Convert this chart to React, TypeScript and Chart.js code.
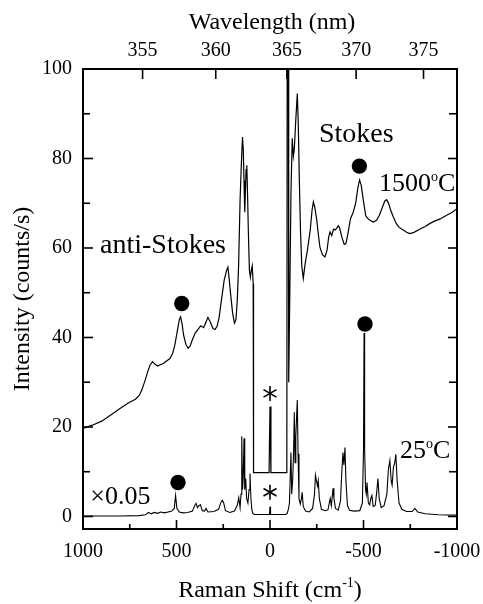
import React, { useEffect, useRef } from "react";
import { Chart, registerables } from "chart.js";

Chart.register(...registerables);

const SERIF = "'Liberation Serif', 'Times New Roman', Times, serif";
const LASER_NM = 363.8;

// 25 °C spectrum (scaled ×0.05)
const shift25: number[] = [
  1000, 900, 800, 700, 665, 650, 635, 620, 600, 585, 565, 545, 525, 512, 505, 498, 485, 465, 440, 415,
  402, 395, 388, 380, 372, 362, 350, 342, 332, 300, 275, 262, 255, 248, 238, 215, 190, 175, 167, 160,
  155, 151, 147, 143, 139, 135, 130, 125, 118, 112, 107, 102, 97, 92, 85, 3, 0, -3, -85, -92,
  -98, -104, -112, -116, -121, -126, -130, -134, -138, -142, -146, -150, -155, -162, -168, -172, -178, -190, -210, -228,
  -238, -243, -248, -254, -258, -264, -275, -295, -310, -318, -322, -328, -333, -337, -342, -350, -365, -377, -384, -390,
  -395, -401, -406, -414, -425, -450, -480, -494, -500, -503, -506, -511, -515, -519, -526, -533, -540, -545, -552, -563,
  -572, -577, -584, -595, -610, -625, -633, -641, -648, -653, -660, -667, -673, -680, -690, -705, -730, -760, -775, -790,
  -830, -900, -1000,
];
const intensity25: number[] = [
  0.1, 0.1, 0.1, 0.2, 0.4, 0.9, 0.6, 0.9, 0.7, 1.0, 0.8, 1.0, 1.2, 1.8, 4.7, 1.8, 1.0, 0.8, 0.9, 1.2,
  2.5, 2.9, 2.0, 2.4, 2.6, 1.3, 1.2, 1.8, 1.0, 1.1, 1.6, 3.2, 3.6, 3.1, 1.3, 0.9, 1.2, 2.5, 4.2, 2.0,
  5.0, 17.9, 6.0, 9.0, 17.5, 6.0, 8.5, 4.0, 3.0, 6.0, 9.6, 4.0, 1.5, 0.7, 0.45, 0.45, 2.2, 0.45, 0.45, 0.7,
  1.6, 3.0, 14.3, 5.0, 8.0, 14.0, 23.3, 12.0, 18.0, 22.0, 26.0, 14.0, 4.0, 2.8, 4.0, 5.4, 2.2, 1.2, 1.0, 1.8,
  5.0, 9.2, 8.0, 6.8, 8.0, 4.0, 1.6, 1.3, 1.5, 3.2, 4.0, 2.4, 4.5, 6.3, 4.0, 1.8, 1.4, 3.5, 10.0, 14.3,
  11.5, 15.4, 8.0, 2.5, 1.4, 1.2, 1.3, 3.0, 15.0, 41.0, 15.0, 6.0, 5.0, 7.6, 3.0, 2.6, 4.2, 4.7, 2.2, 2.5,
  6.0, 8.5, 4.0, 2.0, 2.4, 5.0, 10.5, 12.5, 8.0, 7.0, 11.0, 12.0, 13.9, 8.0, 3.0, 1.6, 1.1, 1.1, 1.8, 1.0,
  0.6, 0.4, 0.3,
];

// 1500 °C spectrum
const shift1500: number[] = [
  1000, 950, 900, 840, 800, 760, 720, 700, 685, 668, 655, 642, 628, 615, 600, 588, 570, 555, 535, 520,
  508, 495, 485, 478, 470, 462, 450, 438, 428, 415, 400, 385, 370, 355, 345, 332, 320, 305, 294, 283,
  272, 260, 245, 232, 225, 218, 210, 200, 190, 182, 175, 168, 160, 153, 147, 143, 139, 135, 132, 128,
  124, 120, 116, 110, 105, 100, 95, 90, 88, 5, 0, -5, -90, -92, -98, -100, -106, -112, -119, -125,
  -130, -137, -146, -151, -157, -163, -170, -178, -188, -200, -215, -225, -232, -240, -250, -260, -267, -280, -294, -305,
  -314, -321, -330, -340, -348, -358, -365, -372, -385, -397, -406, -418, -430, -445, -458, -470, -479, -488, -499, -512,
  -525, -535, -552, -570, -585, -600, -614, -624, -634, -645, -659, -675, -690, -713, -730, -749, -770, -800, -830, -856,
  -880, -910, -945, -975, -1000,
];
const intensity1500: number[] = [
  19.7, 20.4, 21.3, 23.0, 24.2, 25.3, 26.2, 27.0, 28.3, 30.4, 32.2, 33.8, 34.6, 34.0, 33.6, 33.9, 34.2, 34.7, 35.3, 36.5,
  38.5, 41.6, 44.0, 44.6, 43.0, 40.5, 38.5, 37.6, 38.0, 39.5, 41.0, 41.8, 42.6, 42.2, 43.2, 44.5, 43.5, 42.0, 41.8, 42.5,
  44.5, 48.3, 52.8, 55.0, 55.7, 53.0, 49.4, 45.5, 43.2, 44.0, 48.3, 56.0, 70.7, 79.0, 84.8, 82.0, 75.0, 68.0, 72.0, 77.5,
  78.5, 72.0, 64.0, 55.0, 53.5, 55.0, 56.0, 52.0, 9.8, 9.8, 24.6, 9.8, 9.8, 105, 105, 30.0, 50.0, 72.0, 84.5, 80.5,
  82.0, 88.0, 94.5, 88.0, 75.0, 64.0, 56.0, 53.2, 56.5, 59.5, 64.0, 68.5, 70.3, 69.0, 66.2, 62.5, 60.2, 58.5, 58.0, 59.5,
  62.5, 63.6, 62.8, 64.2, 64.0, 64.5, 65.0, 64.5, 62.3, 60.8, 61.0, 63.5, 66.5, 68.0, 70.0, 73.5, 75.2, 74.0, 70.7, 67.2,
  66.5, 66.2, 65.8, 66.2, 67.3, 69.0, 70.5, 70.8, 70.0, 68.5, 67.0, 65.5, 64.6, 64.0, 63.5, 63.2, 63.5, 64.2, 64.8, 65.5,
  66.0, 66.5, 67.3, 68.0, 68.8,
];

// filled-circle markers (●)
const markerShift: number[] = [472, -478, 492, -508];
const markerIntensity: number[] = [47.6, 78.3, 7.6, 43.0];

// asterisks (*) at the laser line
const asteriskShift: number[] = [0, 0];
const asteriskIntensity: number[] = [27.5, 5.4];

const ramanTicks: number[] = [1000, 500, 0, -500, -1000];
const ramanMinorTicks: number[] = [750, 250, -250, -750];
const intensityTicks: number[] = [0, 20, 40, 60, 80, 100];
const intensityMinorTicks: number[] = [10, 30, 50, 70, 90];
const wavelengthTicks: number[] = [355, 360, 365, 370, 375];

const nmToShift = (nm: number) => 1e7 / nm - 1e7 / LASER_NM;
const shiftToNm = (s: number) => 1e7 / (s + 1e7 / LASER_NM);

type Part = { t: string; size: number; dy: number };
type Note = { x: number; y: number; parts: Part[] };

const notes: Note[] = [
  { x: 909, y: 58.9, parts: [{ t: "anti-Stokes", size: 28, dy: 0 }] },
  { x: -262, y: 83.7, parts: [{ t: "Stokes", size: 28, dy: 0 }] },
  {
    x: -583, y: 72.7,
    parts: [
      { t: "1500", size: 26, dy: 0 },
      { t: "o", size: 14, dy: -10 },
      { t: "C", size: 26, dy: 0 },
    ],
  },
  { x: 961, y: 2.8, parts: [{ t: "\u00d70.05", size: 26, dy: 0 }] },
  {
    x: -695, y: 13.1,
    parts: [
      { t: "25", size: 26, dy: 0 },
      { t: "o", size: 14, dy: -10 },
      { t: "C", size: 26, dy: 0 },
    ],
  },
];

function drawParts(ctx: CanvasRenderingContext2D, x: number, y: number, parts: Part[], align: "left" | "center") {
  let total = 0;
  for (const p of parts) {
    ctx.font = `${p.size}px ${SERIF}`;
    total += ctx.measureText(p.t).width;
  }
  let cx = align === "center" ? x - total / 2 : x;
  ctx.textAlign = "left";
  ctx.textBaseline = "alphabetic";
  for (const p of parts) {
    ctx.font = `${p.size}px ${SERIF}`;
    ctx.fillText(p.t, cx, y + p.dy);
    cx += ctx.measureText(p.t).width;
  }
}

const decorations = {
  id: "decorations",
  afterDatasetsDraw(chart: any) {
    const { ctx, chartArea: a, scales } = chart;
    const xs = scales.x;
    const ys = scales.y;
    ctx.save();
    ctx.strokeStyle = "#000";
    ctx.fillStyle = "#000";
    ctx.lineCap = "butt";

    const seg = (x1: number, y1: number, x2: number, y2: number) => {
      ctx.beginPath();
      ctx.moveTo(x1, y1);
      ctx.lineTo(x2, y2);
      ctx.stroke();
    };

    // frame
    ctx.lineWidth = 2;
    ctx.strokeRect(a.left, a.top, a.right - a.left, a.bottom - a.top);

    // inward ticks
    ctx.lineWidth = 1.6;
    intensityTicks.forEach((v) => {
      const py = ys.getPixelForValue(v);
      seg(a.left, py, a.left + 10, py);
      seg(a.right, py, a.right - 9, py);
    });
    intensityMinorTicks.forEach((v) => {
      const py = ys.getPixelForValue(v);
      seg(a.left, py, a.left + 7, py);
      seg(a.right, py, a.right - 8, py);
    });
    ramanTicks.forEach((v) => {
      const px = xs.getPixelForValue(v);
      seg(px, a.bottom, px, a.bottom - 9);
    });
    ramanMinorTicks.forEach((v) => {
      const px = xs.getPixelForValue(v);
      seg(px, a.bottom, px, a.bottom - 5);
    });
    wavelengthTicks.forEach((nm) => {
      const px = xs.getPixelForValue(nmToShift(nm));
      seg(px, a.top, px, a.top + 10);
    });

    // asterisks
    ctx.lineWidth = 1.6;
    asteriskShift.forEach((s, i) => {
      const cx = xs.getPixelForValue(s);
      const cy = ys.getPixelForValue(asteriskIntensity[i]);
      const r = 7.5;
      for (const ang of [90, 30, 150]) {
        const rad = (ang * Math.PI) / 180;
        seg(cx - r * Math.cos(rad), cy - r * Math.sin(rad), cx + r * Math.cos(rad), cy + r * Math.sin(rad));
      }
    });

    // annotations
    notes.forEach((n) => {
      drawParts(ctx, xs.getPixelForValue(n.x), ys.getPixelForValue(n.y), n.parts, "left");
    });

    // axis titles
    drawParts(ctx, 272, 29, [{ t: "Wavelength (nm)", size: 24, dy: 0 }], "center");
    drawParts(
      ctx,
      (a.left + a.right) / 2,
      597,
      [
        { t: "Raman Shift (cm", size: 24, dy: 0 },
        { t: "-1", size: 14, dy: -10 },
        { t: ")", size: 24, dy: 0 },
      ],
      "center"
    );
    ctx.save();
    ctx.translate(23, (a.top + a.bottom) / 2);
    ctx.rotate(-Math.PI / 2);
    ctx.font = `24px ${SERIF}`;
    ctx.textAlign = "center";
    ctx.textBaseline = "middle";
    ctx.fillText("Intensity (counts/s)", 0, 0);
    ctx.restore();

    ctx.restore();
  },
};

export default function App() {
  const ref = useRef<HTMLCanvasElement>(null);

  useEffect(() => {
    const canvas = ref.current;
    if (!canvas) return;
    const tickFont = { family: SERIF, size: 20 };
    const noSidePadding = (scale: any, h: number) => {
      scale.height = h;
      scale.paddingLeft = 0;
      scale.paddingRight = 0;
    };
    const chart = new Chart(canvas, {
      type: "scatter",
      data: {
        datasets: [
          {
            label: "1500 °C",
            data: shift1500.map((s, i) => ({ x: s, y: intensity1500[i] })),
            showLine: true,
            borderColor: "#000",
            borderWidth: 1.2,
            pointRadius: 0,
            tension: 0,
          },
          {
            label: "25 °C",
            data: shift25.map((s, i) => ({ x: s, y: intensity25[i] })),
            showLine: true,
            borderColor: "#000",
            borderWidth: 1.1,
            pointRadius: 0,
            tension: 0,
          },
          {
            label: "markers",
            data: markerShift.map((s, i) => ({ x: s, y: markerIntensity[i] })),
            showLine: false,
            pointRadius: 7.7,
            pointBackgroundColor: "#000",
            pointBorderWidth: 0,
            backgroundColor: "#000",
            borderColor: "#000",
          },
        ],
      },
      options: {
        animation: false,
        responsive: false,
        devicePixelRatio: 1,
        layout: { padding: 0 },
        plugins: {
          legend: { display: false },
          tooltip: { enabled: false },
        },
        scales: {
          x: {
            type: "linear",
            position: "bottom",
            min: -1000,
            max: 1000,
            reverse: true,
            grid: { display: false, drawTicks: false },
            border: { display: false },
            afterBuildTicks: (scale: any) => {
              scale.ticks = ramanTicks.map((v) => ({ value: v }));
            },
            afterFit: (scale: any) => noSidePadding(scale, 75),
            ticks: {
              font: tickFont,
              color: "#000",
              padding: 11,
              maxRotation: 0,
              minRotation: 0,
              autoSkip: false,
              callback: (v: any) => String(v),
            },
          },
          x2: {
            type: "linear",
            position: "top",
            min: -1000,
            max: 1000,
            reverse: true,
            grid: { display: false, drawTicks: false },
            border: { display: false },
            afterBuildTicks: (scale: any) => {
              scale.ticks = wavelengthTicks.map((nm) => ({ value: nmToShift(nm) }));
            },
            afterFit: (scale: any) => noSidePadding(scale, 69),
            ticks: {
              font: tickFont,
              color: "#000",
              padding: 6,
              maxRotation: 0,
              minRotation: 0,
              autoSkip: false,
              callback: (v: any) => String(Math.round(shiftToNm(Number(v)))),
            },
          },
          y: {
            type: "linear",
            position: "left",
            min: -2.8,
            max: 100,
            grid: { display: false, drawTicks: false },
            border: { display: false },
            afterBuildTicks: (scale: any) => {
              scale.ticks = intensityTicks.map((v) => ({ value: v }));
            },
            afterFit: (scale: any) => {
              scale.width = 83;
              scale.paddingTop = 0;
              scale.paddingBottom = 0;
            },
            ticks: {
              font: tickFont,
              color: "#000",
              padding: 11,
              autoSkip: false,
              callback: (v: any) => String(v),
            },
          },
          y2: {
            type: "linear",
            position: "right",
            min: -2.8,
            max: 100,
            grid: { display: false, drawTicks: false },
            border: { display: false },
            afterFit: (scale: any) => {
              scale.width = 26;
              scale.paddingTop = 0;
              scale.paddingBottom = 0;
            },
            ticks: { display: false },
          },
        },
      },
      plugins: [decorations],
    } as any);
    return () => chart.destroy();
  }, []);

  return (
    <div style={{ position: "absolute", left: 0, top: 0, width: 483, height: 604, background: "#fff" }}>
      <canvas ref={ref} width={483} height={604} style={{ display: "block", width: 483, height: 604 }} />
    </div>
  );
}
